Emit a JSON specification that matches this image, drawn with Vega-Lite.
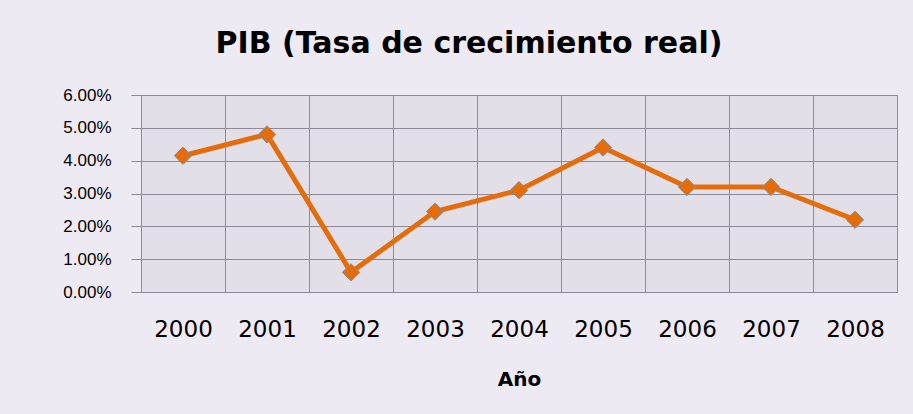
{
  "$schema": "https://vega.github.io/schema/vega-lite/v6.json",
  "width": 756,
  "height": 197,
  "autosize": {"type": "none"},
  "padding": {"left": 141, "top": 95, "right": 16, "bottom": 122},
  "background": "#eeeaf4",
  "view": {"fill": "#e2dfe9", "stroke": "#8e8a96", "strokeWidth": 1},
  "title": {
    "text": "PIB (Tasa de crecimiento real)",
    "font": "DejaVu Sans",
    "fontSize": 30,
    "fontWeight": "bold",
    "color": "#000000",
    "anchor": "middle",
    "dx": -50,
    "baseline": "alphabetic",
    "offset": 3
  },
  "data": {
    "values": [
      {"year": "2000", "pib": 0.0415},
      {"year": "2001", "pib": 0.0480},
      {"year": "2002", "pib": 0.0060},
      {"year": "2003", "pib": 0.0245},
      {"year": "2004", "pib": 0.0310},
      {"year": "2005", "pib": 0.0440},
      {"year": "2006", "pib": 0.0320},
      {"year": "2007", "pib": 0.0320},
      {"year": "2008", "pib": 0.0220}
    ]
  },
  "mark": {
    "type": "line",
    "color": "#e46c0a",
    "strokeWidth": 5,
    "point": {
      "shape": "diamond",
      "size": 300,
      "filled": true,
      "fill": "#e46c0a",
      "stroke": "#8c8c8c",
      "strokeWidth": 1,
      "opacity": 1
    }
  },
  "encoding": {
    "x": {
      "field": "year",
      "type": "ordinal",
      "bandPosition": 0.5,
      "scale": {"type": "band", "paddingInner": 0, "paddingOuter": 0},
      "axis": {
        "title": "Año",
        "titleFont": "DejaVu Sans",
        "titleFontSize": 20,
        "titleFontWeight": "bold",
        "titleColor": "#000000",
        "titleY": 93,
        "titleBaseline": "alphabetic",
        "labelAngle": 0,
        "labelFont": "DejaVu Sans",
        "labelFontSize": 23,
        "labelFontWeight": "normal",
        "labelColor": "#000000",
        "labelPadding": 26,
        "ticks": false,
        "domain": false,
        "grid": true,
        "gridColor": "#8e8a96",
        "gridWidth": 1,
        "tickBand": "extent"
      }
    },
    "y": {
      "field": "pib",
      "type": "quantitative",
      "scale": {"domain": [0, 0.06], "nice": false},
      "axis": {
        "values": [0, 0.01, 0.02, 0.03, 0.04, 0.05, 0.06],
        "format": ".2%",
        "title": null,
        "grid": true,
        "gridColor": "#8e8a96",
        "gridWidth": 1,
        "domain": false,
        "ticks": true,
        "tickSize": 10,
        "tickColor": "#8e8a96",
        "labelFont": "Liberation Sans",
        "labelFontSize": 17,
        "labelColor": "#000000",
        "labelPadding": 20
      }
    }
  }
}
